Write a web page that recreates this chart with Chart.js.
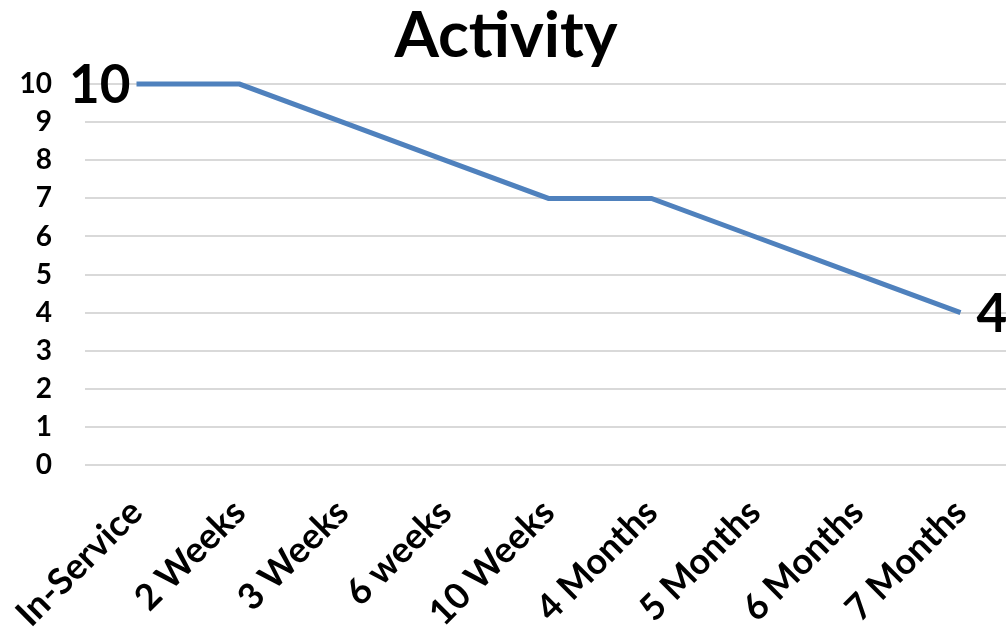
<!DOCTYPE html>
<html>
<head>
<meta charset="utf-8">
<script src="https://cdn.jsdelivr.net/npm/chart.js@4/dist/chart.umd.min.js"></script>
<style>
  html, body { margin: 0; padding: 0; background: #fff; overflow: hidden; }
  #wrap { width: 1012px; height: 634px; }
</style>
</head>
<body>
<div id="wrap"><canvas id="myChart" width="1012" height="634"></canvas></div>
<script>
const categories = ['In-Service', '2 Weeks', '3 Weeks', '6 weeks', '10 Weeks', '4 Months', '5 Months', '6 Months', '7 Months'];
const activity = [10, 10, 9, 8, 7, 7, 6, 5, 4];
const yTicks = [0, 1, 2, 3, 4, 5, 6, 7, 8, 9, 10];
// only the first and last points carry a value label
const labelledPoints = [0, activity.length - 1];

const FONT = "Lato, 'Open Sans', sans-serif";

const endLabels = {
  id: 'endLabels',
  afterDatasetsDraw(chart) {
    const ctx = chart.ctx;
    const meta = chart.getDatasetMeta(0);
    ctx.save();
    ctx.font = "bold 53px " + FONT;
    ctx.fillStyle = '#000';
    ctx.textBaseline = 'middle';
    labelledPoints.forEach(i => {
      const pt = meta.data[i];
      if (i === 0) {
        ctx.textAlign = 'right';
        ctx.fillText(String(activity[i]), pt.x - 6, pt.y + 2);
      } else {
        ctx.textAlign = 'left';
        ctx.fillText(String(activity[i]), pt.x + 16, pt.y + 2);
      }
    });
    ctx.restore();
  }
};

document.addEventListener('DOMContentLoaded', () => {
  const ctx = document.getElementById('myChart').getContext('2d');

  new Chart(ctx, {
    type: 'line',
    data: {
      labels: categories,
      datasets: [{
        label: 'Activity',
        data: activity,
        borderColor: '#4F81BD',
        backgroundColor: '#4F81BD',
        borderWidth: 5,
        pointRadius: 0,
        tension: 0,
        clip: false
      }]
    },
    options: {
      responsive: false,
      animation: false,
      layout: { padding: 0 },
      scales: {
        x: {
          offset: true,
          grid: { display: false, drawTicks: false },
          border: { display: false },
          ticks: {
            autoSkip: false,
            maxRotation: 45,
            minRotation: 45,
            padding: 26,
            color: '#000',
            font: { family: FONT, size: 36, weight: 'bold' }
          },
          afterFit(scale) {
            scale.height = 169;
            scale.paddingLeft = 0;
            scale.paddingRight = 0;
          }
        },
        y: {
          min: 0,
          max: 10,
          afterBuildTicks(scale) { scale.ticks = yTicks.map(v => ({ value: v })); },
          grid: { color: '#D9D9D9', lineWidth: 2, drawTicks: false },
          border: { display: false },
          ticks: {
            padding: 33,
            color: '#000',
            font: { family: FONT, size: 28, weight: 'bold' }
          },
          afterFit(scale) {
            scale.width = 85;
            scale.paddingTop = 0;
            scale.paddingBottom = 0;
          }
        }
      },
      plugins: {
        legend: { display: false },
        tooltip: { enabled: false },
        title: {
          display: true,
          text: 'Activity',
          color: '#000',
          font: { family: FONT, size: 64, weight: 'bold', lineHeight: 1.08 },
          padding: { top: 2, bottom: 13 }
        }
      }
    },
    plugins: [endLabels]
  });
});
</script>
</body>
</html>
